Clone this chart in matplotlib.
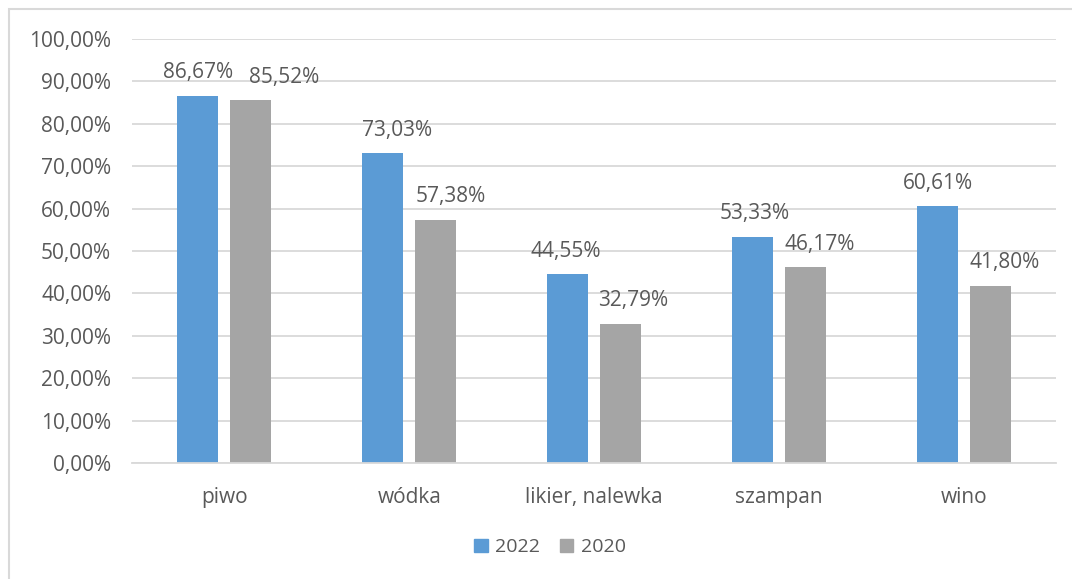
import numpy as np
import matplotlib.pyplot as plt
from matplotlib.patches import Patch, Rectangle

categories = ['piwo', 'wódka', 'likier, nalewka', 'szampan', 'wino']
values_2022 = [86.67, 73.03, 44.55, 53.33, 60.61]
values_2020 = [85.52, 57.38, 32.79, 46.17, 41.80]
series_names = ['2022', '2020']
yticks = np.arange(0, 101, 10)

# horizontal nudges (pixels) of the value labels, as placed in the original
nudge_2022 = [0, 14, -2, 2, 1]
nudge_2020 = [33, 15, 13, 14, 15]

BLUE = '#5B9BD5'
GRAY = '#A5A5A5'
TEXT = '#595959'
GRID = '#D9D9D9'

plt.rcParams['font.family'] = ['Open Sans', 'DejaVu Sans']


def fmt(v):
    return ('%.2f' % v).replace('.', ',') + '%'


fig = plt.figure(figsize=(10.72, 5.79), dpi=100)
ax = fig.add_axes([132 / 1072, 1 - 463 / 579, 924 / 1072, 424 / 579])

# chart area frame (runs off the right/bottom edge like the original)
fig.patches.append(Rectangle((9 / 1072, -0.1), 1.2, 1 - 9 / 579 + 0.1,
                             transform=fig.transFigure, fill=False,
                             edgecolor=GRID, linewidth=1.5))

x = np.arange(len(categories))
w = 0.222
off = 0.143
b1 = ax.bar(x - off, values_2022, w, color=BLUE, zorder=3)
b2 = ax.bar(x + off, values_2020, w, color=GRAY, zorder=3)

for bars, vals, nudge in [(b1, values_2022, nudge_2022), (b2, values_2020, nudge_2020)]:
    for bar, v, dx in zip(bars, vals, nudge):
        ax.annotate(fmt(v), (bar.get_x() + bar.get_width() / 2, v),
                    xytext=(dx, 17.5), textcoords='offset pixels',
                    ha='center', va='baseline', fontsize=15, color=TEXT,
                    zorder=5)

ax.set_xlim(-0.5, len(categories) - 0.5)
ax.set_ylim(0, 100)
ax.set_yticks(yticks)
ax.set_yticklabels([fmt(t) for t in yticks])
ax.set_xticks(x)
ax.set_xticklabels(categories)
ax.tick_params(axis='y', length=0, pad=15, labelsize=15, labelcolor=TEXT)
ax.tick_params(axis='x', length=0, pad=17, labelsize=15, labelcolor=TEXT)

ax.grid(axis='y', color=GRID, linewidth=1.3, zorder=0)
for s in ['top', 'right', 'left']:
    ax.spines[s].set_visible(False)
ax.spines['bottom'].set_color(GRID)
ax.spines['bottom'].set_linewidth(1.3)
ax.spines['bottom'].set_zorder(4)

handles = [Patch(color=BLUE, label=series_names[0]),
           Patch(color=GRAY, label=series_names[1])]
fig.legend(handles=handles, loc='center', bbox_to_anchor=(550 / 1072, 1 - 547 / 579),
           ncol=2, frameon=False, fontsize=14, labelcolor=TEXT,
           handlelength=0.67, handleheight=0.67, handletextpad=0.4,
           columnspacing=1.0)

fig.savefig('out.png', dpi=100)
